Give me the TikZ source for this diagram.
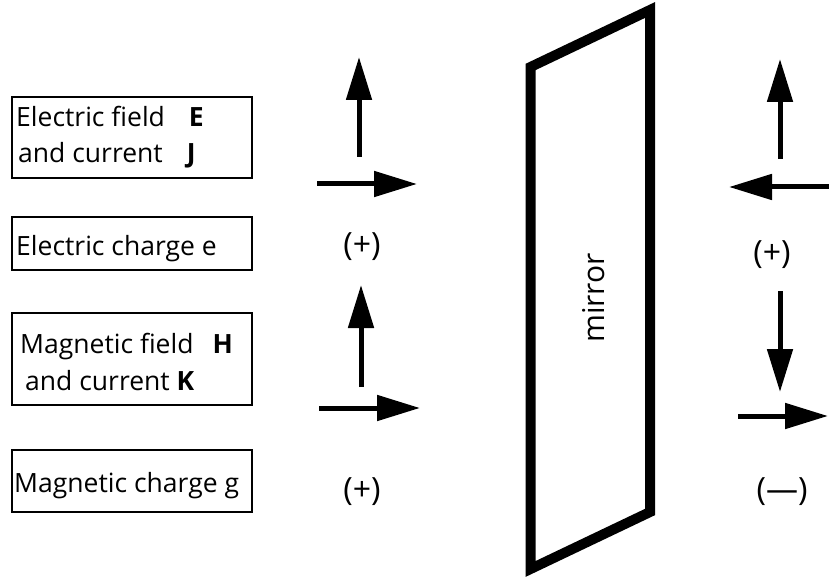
\documentclass[tikz,border=0pt]{standalone}
\usepackage{fontspec}
\setmainfont{Open Sans}
\usetikzlibrary{arrows.meta}
\begin{document}
\begin{tikzpicture}[x=1pt,y=-1pt,
  box/.style={draw,line width=2.5pt,inner sep=0pt,minimum width=240pt},
  lbl/.style={anchor=base west,inner sep=0pt,font=\fontsize{26.5}{32}\selectfont},
  sign/.style={inner sep=0pt,font=\fontsize{32}{36}\selectfont},
  vec/.style={line width=5pt,-{Triangle[length=43pt,width=25pt]}}]
\useasboundingbox (0,0) rectangle (829,577);
% boxes
\node[box,minimum height=81pt] (b1) at (132,137.5) {};
\node[box,minimum height=53pt] (b2) at (132,243.5) {};
\node[box,minimum height=92pt] (b3) at (132,359) {};
\node[box,minimum height=62pt] (b4) at (132,481) {};
% box texts
\node[lbl] (t1a) at (16,127) {Electric field\hspace{24pt}\textbf{E}};
\node[lbl] (t1b) at (18,163) {and current\hspace{24pt}\textbf{J}};
\node[lbl] (t2) at (16,255) {Electric charge e};
\node[lbl] (t3a) at (20,353) {Magnetic field\hspace{19pt}\textbf{H}};
\node[lbl] (t3b) at (25,390) {and current \textbf{K}};
\node[lbl] (t4) at (14,492) {Magnetic charge g};
% mirror
\draw[line width=10pt,miter limit=20] (530.5,67) -- (650,10) -- (650,512) -- (530.5,569) -- cycle;
\node[rotate=90,inner sep=0pt,font=\fontsize{30}{34}\selectfont] (m) at (594,298) {mirror};
% left arrows
\coordinate (a1s) at (359,157); \coordinate (a1e) at (359,57);
\coordinate (a2s) at (317,184); \coordinate (a2e) at (417,184);
\coordinate (a3s) at (361,387); \coordinate (a3e) at (361,285);
\coordinate (a4s) at (319,408); \coordinate (a4e) at (420,408);
\draw[vec] (a1s) -- (a1e);
\draw[vec] (a2s) -- (a2e);
\draw[vec] (a3s) -- (a3e);
\draw[vec] (a4s) -- (a4e);
\node[sign] (s1) at (362,247) {(+)};
\node[sign] (s2) at (362,492) {(+)};
% right arrows
\coordinate (r1s) at (780,159); \coordinate (r1e) at (780,59);
\coordinate (r2s) at (829,187); \coordinate (r2e) at (729,187);
\coordinate (r3s) at (780,291); \coordinate (r3e) at (780,392);
\coordinate (r4s) at (738,416); \coordinate (r4e) at (828,416);
\draw[vec] (r1s) -- (r1e);
\draw[vec] (r2s) -- (r2e);
\draw[vec] (r3s) -- (r3e);
\draw[vec] (r4s) -- (r4e);
\node[sign] (s3) at (772,255) {(+)};
\node[sign] (s4) at (782,492) {(—)};
\end{tikzpicture}
\end{document}
